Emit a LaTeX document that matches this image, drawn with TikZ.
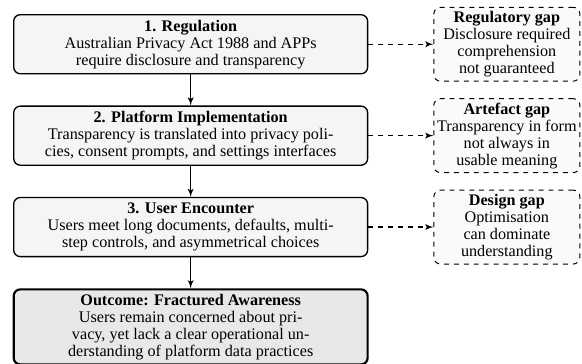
\documentclass[tikz,border=0pt]{standalone}
\usepackage{fontspec}
\setmainfont{Liberation Serif}
\usetikzlibrary{positioning}
\usetikzlibrary{arrows}
\tikzset{>=latex'}
\tikzset{stage/.style={draw, rounded corners=4pt, fill=black!4, line width=0.8pt, align=center, minimum width=214.5pt, inner ysep=2pt, minimum height=35.8pt, font=\fontsize{9.8}{10.3}\selectfont}}
\tikzset{outcome/.style={stage, fill=black!9, line width=1.3pt, minimum height=45.5pt}}
\tikzset{gapbox/.style={draw, dashed, rounded corners=4pt, fill=black!2, line width=0.6pt, align=center, minimum width=88.5pt, inner xsep=1pt, inner ysep=2pt, minimum height=44.8pt, font=\fontsize{9.8}{10.3}\selectfont}}
\tikzset{flow/.style={->, line width=0.7pt}}
\tikzset{gaplink/.style={->, dashed, line width=0.7pt}}

\begin{document}
\begin{tikzpicture}[node distance=18.8pt]
\useasboundingbox (0,0) rectangle (352.7pt,-220pt);
\node (reg) [stage, anchor=north west] at (7.9pt,-8.5pt) {\textbf{1. Regulation}\\Australian Privacy Act 1988 and APPs\\require disclosure and transparency};
\node (impl) [stage, below=of reg] {\textbf{2. Platform Implementation}\\Transparency is translated into privacy poli-\\cies, consent prompts, and settings interfaces};
\node (enc) [stage, below=of impl] {\textbf{3. User Encounter}\\Users meet long documents, defaults, multi-\\step controls, and asymmetrical choices};
\node (outc) [outcome, below=of enc] {\textbf{Outcome: Fractured Awareness}\\Users remain concerned about pri-\\vacy, yet lack a clear operational un-\\derstanding of platform data practices};

\node (reggap) [gapbox, right = 39.4pt of reg] {\textbf{Regulatory gap}\\Disclosure required\\comprehension\\not guaranteed};
\node (artgap) [gapbox, right = 39.4pt of impl] {\textbf{Artefact gap}\\Transparency in form\\not always in\\usable meaning};
\node (desgap) [gapbox, right = 39.4pt of enc] {\textbf{Design gap}\\Optimisation\\can dominate\\understanding};

\draw[flow] (reg) -- (impl);
\draw[flow] (impl) -- (enc);
\draw[flow] (enc) -- (outc);

\draw[gaplink] (reg) -- (reggap);
\draw[gaplink] (impl) -- (artgap);
\draw[gaplink] (enc) -- (desgap);
\end{tikzpicture}
\end{document}
